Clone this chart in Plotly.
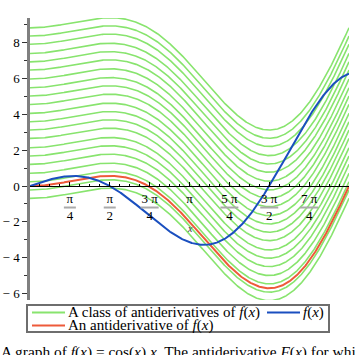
import numpy as np
import plotly.graph_objects as go

# ---- data ----
x_min, x_max = 0.0, 2 * np.pi
y_min, y_max = -6.37, 9.39
# values of each green antiderivative at x = 0
green_start_values = [-0.69, -0.22, 0.24, 0.71, 1.21, 1.68, 2.14, 2.66, 3.13, 3.59,
                      4.06, 4.56, 5.03, 5.49, 5.98, 6.48, 6.94, 7.41, 7.92, 8.38, 8.84]
red_start_value = 0.0
x_tick_vals = [np.pi / 4, np.pi / 2, 3 * np.pi / 4, np.pi, 5 * np.pi / 4, 3 * np.pi / 2, 7 * np.pi / 4, 2 * np.pi]
x_tick_text = ["π<br>4", "π<br>2", "3 π<br>4", "π", "5 π<br>4", "3 π<br>2", "7 π<br>4", "2 π"]
x_tick_is_fraction = [True, True, True, False, True, True, True, False]
x_tick_numer_wide = [False, False, True, False, True, True, True, False]
y_tick_vals = [-6, -4, -2, 0, 2, 4, 6, 8]
y_tick_text = ["− 6", "− 4", "− 2", "0", "2", "4", "6", "8"]

legend_labels = ["A class of antiderivatives of <i>f</i>(<i>x</i>)", "<i>f</i>(<i>x</i>)",
                 "An antiderivative of <i>f</i>(<i>x</i>)"]
caption = ("A graph of <i>f</i>(<i>x</i>) = cos(<i>x</i>) <i>x</i>. The antiderivative "
           "<i>F</i>(<i>x</i>) for which <i>F</i>(0) = 0 is shown in red.")

# ---- functions ----
xs = np.linspace(x_min, x_max, 500)
f = xs * np.cos(xs)                 # f(x) = cos(x) x
F = xs * np.sin(xs) + np.cos(xs)    # antiderivative (up to a constant)
F0 = 1.0

GREEN = "#88E46E"
RED = "#EE5A3A"
BLUE = "#1A4FBF"
FONT = "Liberation Serif"

W = H = 355
ML, MR, MT, MB = 30, 6, 18, 55
PW, PH = W - ML - MR, H - MT - MB


def px_x(px):
    return (px - ML) / PW


def px_y(py):
    return (H - MB - py) / PH


fig = go.Figure()
for i, s in enumerate(green_start_values):
    fig.add_trace(go.Scatter(
        x=xs, y=F - F0 + s, mode="lines", line=dict(color=GREEN, width=1.6),
        name=legend_labels[0], showlegend=False, hoverinfo="skip"))
fig.add_trace(go.Scatter(x=xs, y=F - F0 + red_start_value, mode="lines",
                         line=dict(color=RED, width=2), name=legend_labels[2], showlegend=False))
fig.add_trace(go.Scatter(x=xs, y=f, mode="lines",
                         line=dict(color=BLUE, width=2), name=legend_labels[1], showlegend=False))

shapes = []
# fraction bars under numerators of x tick labels
for v, frac, wide in zip(x_tick_vals, x_tick_is_fraction, x_tick_numer_wide):
    if not frac:
        continue
    hw = 9 if wide else 6
    shapes.append(dict(type="line", xref="x", yref="y", xsizemode="pixel", ysizemode="pixel",
                       xanchor=v, yanchor=0, x0=-hw, x1=hw, y0=-21.5, y1=-21.5,
                       line=dict(color="#AAAAAA", width=2)))

# manual legend (box, samples, labels)
shapes.append(dict(type="rect", xref="paper", yref="paper",
                   x0=px_x(27), x1=px_x(329), y0=px_y(305), y1=px_y(332),
                   line=dict(color="#6E6E6E", width=2), fillcolor="white", layer="above"))
legend_items = [  # (sample x start, row center y, colour, label)
    (32, 312.5, GREEN, legend_labels[0]),
    (267, 312.5, BLUE, legend_labels[1]),
    (32, 325.5, RED, legend_labels[2]),
]
annotations = []
for sx, cy, col, lab in legend_items:
    shapes.append(dict(type="line", xref="paper", yref="paper",
                       x0=px_x(sx), x1=px_x(sx + 33), y0=px_y(cy), y1=px_y(cy),
                       line=dict(color=col, width=2), layer="above"))
    annotations.append(dict(text=lab, x=px_x(sx + 34), y=px_y(cy), xref="paper", yref="paper",
                            xanchor="left", yanchor="middle", showarrow=False,
                            font=dict(family=FONT, size=15, color="black")))

annotations.append(dict(text="<i>x</i>", x=np.pi, y=0, xref="x", yref="y", yshift=-42,
                        showarrow=False, font=dict(family=FONT, size=10, color="#333333")))
annotations.append(dict(text=caption, x=px_x(-1), y=px_y(341), xref="paper", yref="paper",
                        xanchor="left", yanchor="top", showarrow=False, align="left",
                        font=dict(family=FONT, size=15.4, color="black")))

zero_pos = (0 - y_min) / (y_max - y_min)

fig.update_layout(
    width=W, height=H,
    margin=dict(l=ML, r=MR, t=MT, b=MB, autoexpand=False),
    paper_bgcolor="white", plot_bgcolor="white",
    font=dict(family=FONT, size=13, color="black"),
    shapes=shapes, annotations=annotations, showlegend=False,
    xaxis=dict(range=[x_min, x_max], anchor="free", position=zero_pos, automargin=False,
               showgrid=False, zeroline=False, showline=True, linecolor="black", linewidth=1,
               tickmode="array", tickvals=x_tick_vals, ticktext=x_tick_text,
               ticks="inside", ticklen=4, tickcolor="black", tickfont=dict(family=FONT, size=13),
               minor=dict(tickmode="array",
                          tickvals=[k * np.pi / 16 for k in range(1, 33)],
                          ticks="inside", ticklen=2, tickcolor="black"),
               fixedrange=True),
    yaxis=dict(range=[y_min, y_max], showgrid=False, zeroline=False, automargin=False,
               showline=True, linecolor="#808080", linewidth=2.5,
               tickmode="array", tickvals=y_tick_vals, ticktext=y_tick_text,
               ticks="outside", ticklen=5,
               tickcolor="#333333", tickfont=dict(family=FONT, size=13),
               minor=dict(dtick=1, ticks="outside", ticklen=3, tickcolor="#333333"),
               fixedrange=True),
)

fig.write_html("out.html", config={"displayModeBar": False},
               post_script="document.body.style.margin='0';")
